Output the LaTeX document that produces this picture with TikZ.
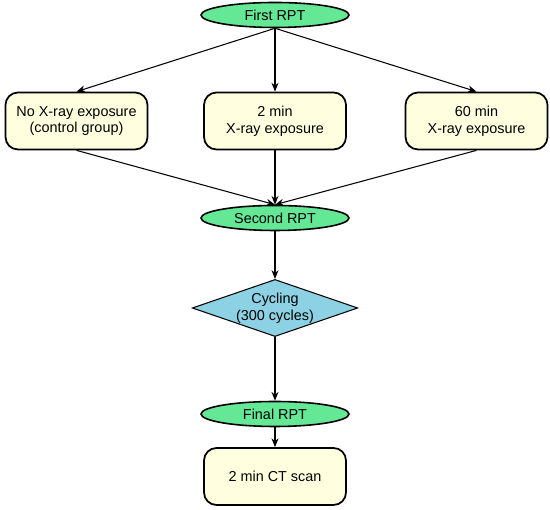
\documentclass[tikz,border=0pt]{standalone}
\usepackage{fontspec}
\setmainfont{Liberation Sans}
\usetikzlibrary{shapes.geometric, arrows.meta}
\definecolor{rptgreen}{RGB}{100,232,150}
\definecolor{boxyellow}{RGB}{255,255,224}
\definecolor{cycleblue}{RGB}{140,210,228}
\tikzset{
  rpt/.style={ellipse, draw=black, line width=0.9pt, fill=rptgreen, minimum width=2.96cm, minimum height=0.5cm, inner sep=0pt},
  stepbox/.style={rectangle, rounded corners=0.25cm, draw=black, line width=1pt, fill=boxyellow, minimum width=2.84cm, minimum height=1.14cm, align=center, inner sep=0pt},
  cyclebox/.style={diamond, draw=black, line width=0.6pt, fill=cycleblue, aspect=2.9, minimum width=3.28cm, minimum height=1.12cm, inner sep=0pt, align=center},
  flow/.style={-{Stealth[length=5pt, width=4pt]}, line width=0.6pt}
}
\begin{document}
\begin{tikzpicture}
  \fontsize{8.2}{9.6}\selectfont
  \useasboundingbox (0, 0) rectangle (11, 10.2);
  \node[rpt] (first) at (5.5, 9.9) {First RPT};
  \node[stepbox] (noxray) at (1.53, 7.78) {No X-ray exposure\\(control group)};
  \node[stepbox] (twomin) at (5.5, 7.78) {2 min\\X-ray exposure};
  \node[stepbox] (sixtymin) at (9.53, 7.78) {60 min\\X-ray exposure};
  \node[rpt] (second) at (5.5, 5.84) {Second RPT};
  \node[cyclebox] (cycling) at (5.5, 4.04) {Cycling\\(300 cycles)};
  \node[rpt] (final) at (5.5, 1.92) {Final RPT};
  \node[stepbox] (ctscan) at (5.5, 0.67) {2 min CT scan};

  \draw[flow] (first.south) -- (noxray.north);
  \draw[flow] (first.south) -- (twomin.north);
  \draw[flow] (first.south) -- (sixtymin.north);
  \draw[flow] (noxray.south) -- (second.north);
  \draw[flow] (twomin.south) -- (second.north);
  \draw[flow] (sixtymin.south) -- (second.north);
  \draw[flow] (second.south) -- (cycling.north);
  \draw[flow] (cycling.south) -- (final.north);
  \draw[flow] (final.south) -- (ctscan.north);
\end{tikzpicture}
\end{document}
